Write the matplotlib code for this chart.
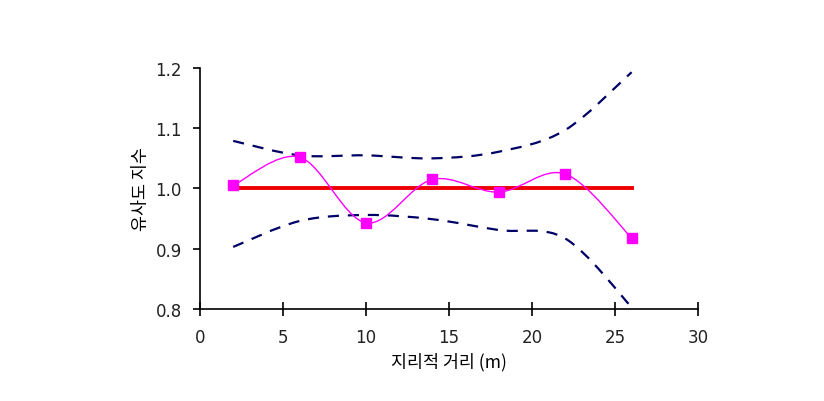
import numpy as np
import matplotlib
matplotlib.use('Agg')
from matplotlib import pyplot as plt
from matplotlib.path import Path
from matplotlib.patches import PathPatch

plt.rcParams['font.family'] = ['Noto Sans CJK KR', 'DejaVu Sans']

distance = [2, 6, 10, 14, 18, 22, 26]
similarity = [1.005, 1.052, 0.943, 1.015, 0.994, 1.024, 0.918]
upper = [1.079, 1.055, 1.055, 1.050, 1.061, 1.097, 1.193]
lower = [0.903, 0.946, 0.956, 0.949, 0.931, 0.917, 0.803]
expected = [1.0, 1.0]
expected_x = [2, 26]


def smooth_path(x, y):
	# Excel-like smoothed line: Catmull-Rom segments as cubic Beziers
	pts = np.column_stack([x, y])
	verts = [pts[0]]
	codes = [Path.MOVETO]
	n = len(pts)
	for i in range(n - 1):
		p0 = pts[max(i - 1, 0)]
		p1 = pts[i]
		p2 = pts[i + 1]
		p3 = pts[min(i + 2, n - 1)]
		verts += [p1 + (p2 - p0) / 6, p2 - (p3 - p1) / 6, p2]
		codes += [Path.CURVE4] * 3
	return Path(verts, codes)


fig = plt.figure(figsize=(8.24, 4.02), dpi=100)
ax = fig.add_axes([0.2427, 0.2289, 0.6044, 0.5995])

ax.add_patch(PathPatch(smooth_path(distance, upper), fill=False,
	edgecolor='#000066', lw=1.6, linestyle=(0, (5, 4))))
ax.add_patch(PathPatch(smooth_path(distance, lower), fill=False,
	edgecolor='#000066', lw=1.6, linestyle=(0, (5, 4))))
ax.plot(expected_x, expected, color='#ee0000', lw=2.8, zorder=3)
ax.add_patch(PathPatch(smooth_path(distance, similarity), fill=False,
	edgecolor='#ff00ff', lw=1.0, zorder=4))
ax.plot(distance, similarity, ls='none', marker='s', ms=7,
	color='#ff00ff', zorder=5)

ax.set_xlim(0, 30)
ax.set_ylim(0.8, 1.2)
ax.set_xticks(np.arange(0, 31, 5))
ax.set_yticks(np.arange(0.8, 1.21, 0.1))
ax.set_yticklabels(['0.8', '0.9', '1.0', '1.1', '1.2'])
for s in ['top', 'right']:
	ax.spines[s].set_visible(False)
for s in ['left', 'bottom']:
	ax.spines[s].set_linewidth(1.2)
ax.tick_params(axis='y', direction='out', length=5, width=1.2, labelsize=12, pad=8, colors='black')
ax.tick_params(axis='x', direction='inout', length=10, width=1.2, labelsize=12, pad=9)
for lab in ax.get_xticklabels() + ax.get_yticklabels():
	lab.set_family('DejaVu Sans')
	lab.set_color('#222222')
ax.set_xlabel('지리적 거리 (m)', fontsize=12.5, labelpad=4)
ax.set_ylabel('유사도 지수', fontsize=12.5, labelpad=4)

plt.savefig('out.png', dpi=100)
